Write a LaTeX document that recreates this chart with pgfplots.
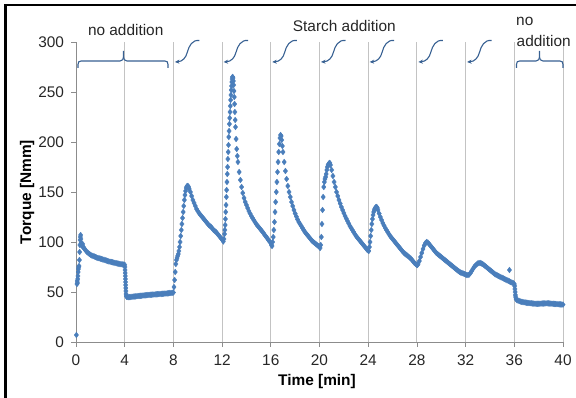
\documentclass[border=0pt]{standalone}
\usepackage{fontspec}
\setmainfont{Liberation Sans}
\usepackage{pgfplots}
\usepackage{pgfplotstable}
\pgfplotsset{compat=1.18}
\usetikzlibrary{arrows.meta}
\definecolor{pts}{RGB}{74,126,187}
\definecolor{ann}{RGB}{55,96,146}
\definecolor{gridc}{RGB}{195,195,195}
\definecolor{axc}{RGB}{140,140,140}
\newcommand{\fs}{\fontsize{15.4bp}{18bp}\selectfont}

\pgfplotstableread{
t v
0.03 7
0.08 58
0.10 61
0.12 59
0.14 63
0.16 66
0.18 70
0.20 73
0.22 75
0.25 76
0.28 82
0.30 90
0.32 97
0.34 102
0.36 105
0.38 107
0.40 103
0.42 99
0.45 97
0.50 96
0.55 98
0.60 95
0.65 94
0.70 93
0.80 91.5
0.90 90
1.00 89
1.1 88
1.2 87.2
1.3 86.5
1.4 86
1.5 85.5
1.6 85
1.7 84.5
1.8 84
1.9 83.7
2.0 83.3
2.1 83
2.2 82.6
2.3 82.2
2.4 81.8
2.5 81.4
2.6 81
2.7 80.6
2.8 80.3
2.9 80
3.0 79.7
3.1 79.4
3.2 79.1
3.3 78.8
3.4 78.5
3.5 78.3
3.6 78
3.7 77.8
3.8 77.6
3.9 77.4
4.0 77.2
4.02 75
4.03 72
4.04 69
4.05 66
4.06 63
4.07 60
4.08 57
4.09 54
4.10 51
4.11 48
4.13 46
4.16 45.3
4.2 45
4.3 44.8
4.4 44.9
4.5 45
4.6 45.2
4.7 45.4
4.8 45.5
4.9 45.6
5.0 45.8
5.1 46
5.2 46.1
5.3 46.2
5.4 46.3
5.5 46.5
5.6 46.6
5.7 46.7
5.8 46.8
5.9 47
6.0 47.1
6.1 47.2
6.2 47.3
6.3 47.4
6.4 47.5
6.5 47.6
6.6 47.7
6.7 47.8
6.8 47.9
6.9 48
7.0 48.1
7.1 48.2
7.2 48.3
7.3 48.4
7.4 48.5
7.5 48.6
7.6 48.7
7.7 48.9
7.8 49
7.9 49.2
8.0 49.5
8.05 55
8.1 62
8.15 70
8.2 78
8.25 82
8.3 84
8.35 86
8.4 88
8.45 91
8.5 95
8.55 100
8.6 106
8.65 112
8.7 118
8.75 124
8.8 130
8.85 136
8.9 142
8.95 147
9.0 151
9.05 154
9.1 155.5
9.15 156
9.2 156
9.25 155
9.3 153
9.4 150
9.5 146
9.6 142
9.7 139
9.8 136
9.9 133
10.0 131
10.1 129
10.2 127.5
10.3 126
10.4 124.5
10.5 123
10.6 121.5
10.7 120
10.8 118.5
10.9 117
11.0 116
11.1 115
11.2 113.5
11.3 112
11.4 111
11.5 110
11.6 108.5
11.7 107
11.8 105.5
11.9 104
12.0 102.5
12.1 100.5
12.15 103
12.2 108
12.225 112
12.25 117
12.275 123
12.3 130
12.325 137
12.35 145
12.375 152
12.4 160
12.425 168
12.45 175
12.475 183
12.5 190
12.525 197
12.55 205
12.575 211
12.6 218
12.625 224
12.65 230
12.675 236
12.7 242
12.725 247
12.75 252
12.775 256
12.8 260
12.825 263
12.85 265
12.875 265
12.9 264
12.925 261
12.95 257
12.975 251
13.0 245
13.025 238
13.05 230
13.075 222
13.1 215
13.15 203
13.2 193
13.25 186
13.3 180
13.4 170
13.5 162
13.6 155
13.7 149
13.8 144
13.9 140
14.0 137
14.1 134
14.2 131
14.3 128.5
14.4 126
14.5 124
14.6 122
14.7 120
14.8 118
14.9 116.5
15.0 115
15.1 113.5
15.2 112
15.3 110.5
15.4 109
15.5 107
15.6 105.5
15.7 104
15.8 102
15.9 100.5
16.0 99
16.05 97
16.1 96
16.15 100
16.2 105
16.25 112
16.3 120
16.35 130
16.4 140
16.45 150
16.5 160
16.55 170
16.6 180
16.65 190
16.7 198
16.75 204
16.8 207
16.85 206
16.9 202
16.95 196
17.0 190
17.1 180
17.2 171
17.3 163
17.4 156
17.5 150
17.6 145
17.7 140
17.8 136
17.9 132
18.0 128.5
18.1 125.5
18.2 122.5
18.3 120
18.4 118
18.5 116
18.6 114
18.7 112
18.8 110
18.9 108.5
19.0 107
19.1 105.5
19.2 104
19.3 102.5
19.4 101
19.5 100
19.6 99
19.7 98
19.8 97
19.9 96
20.0 95
20.05 94
20.1 97
20.15 105
20.2 118
20.25 132
20.3 145
20.35 155
20.4 160
20.45 163
20.5 165
20.55 168
20.6 172
20.65 175
20.7 177
20.75 178
20.8 179
20.85 179
20.9 177
21.0 172
21.1 166
21.2 160
21.3 155
21.4 150
21.5 146
21.6 142
21.7 138.5
21.8 135
21.9 132
22.0 129
22.1 126
22.2 123.5
22.3 121
22.4 118.5
22.5 116
22.6 114
22.7 112
22.8 110
22.9 108
23.0 106
23.1 104.5
23.2 103
23.3 101.5
23.4 100
23.5 98.5
23.6 97
23.7 95.5
23.8 94
23.9 92.5
24.0 91.5
24.05 91
24.1 95
24.15 100
24.2 106
24.25 112
24.3 118
24.35 123
24.4 127
24.45 130
24.5 132
24.55 133.5
24.6 134.5
24.65 135
24.7 135
24.75 134
24.8 132
24.9 128.5
25.0 125
25.1 122
25.2 119
25.3 116.5
25.4 114
25.5 112
25.6 110
25.7 108
25.8 106
25.9 104.5
26.0 103
26.1 101.5
26.2 100
26.3 98.5
26.4 97
26.5 95.5
26.6 94
26.7 92.5
26.8 91
26.9 89.5
27.0 88.5
27.1 87.5
27.2 86.5
27.3 85.5
27.4 84.5
27.5 83.5
27.6 82
27.7 80.5
27.8 79
27.9 78
28.0 77
28.05 77
28.1 78
28.2 81
28.3 85
28.4 89
28.5 93
28.6 96.5
28.7 99
28.8 100
28.9 99.5
29.0 98
29.1 96.5
29.2 95
29.3 93.5
29.4 92
29.5 90.5
29.6 89
29.7 88
29.8 87
29.9 86
30.0 85
30.1 84
30.2 83
30.3 82
30.4 81
30.5 80
30.6 79
30.7 78
30.8 77
30.9 76
31.0 75
31.1 74
31.2 73
31.3 72
31.4 71
31.5 70.2
31.6 69.5
31.7 69
31.8 68.5
31.9 68
32.0 67.5
32.1 67
32.2 67
32.3 67.5
32.4 69
32.5 71
32.6 73
32.7 75
32.8 76.5
32.9 77.5
33.0 78.5
33.1 79
33.2 79
33.3 78.5
33.4 78
33.5 77
33.6 76
33.7 75
33.8 74
33.9 73
34.0 72
34.1 71
34.2 70
34.3 69
34.4 68
34.5 67.3
34.6 66.6
34.7 66
34.8 65.4
34.9 64.8
35.0 64.2
35.1 63.6
35.2 63
35.3 62.4
35.4 61.8
35.5 61.2
35.6 60.6
35.7 60
35.8 59.5
35.9 59
36.0 58
36.03 56
36.05 53
36.07 50
36.09 47
36.11 45
36.14 43
36.2 42
36.3 41.5
36.4 41
36.5 40.5
36.6 40.2
36.7 40
36.8 39.7
36.9 39.5
37.0 39.3
37.1 39.1
37.2 39
37.3 38.8
37.4 38.7
37.5 38.5
37.6 38.4
37.7 38.3
37.8 38.2
37.9 38.2
38.0 38.3
38.1 38.3
38.2 38.4
38.3 38.5
38.4 38.5
38.5 38.6
38.6 38.6
38.7 38.7
38.8 38.6
38.9 38.5
39.0 38.4
39.1 38.3
39.2 38.2
39.3 38.1
39.4 38
39.5 37.9
39.6 37.8
39.7 37.7
39.8 37.6
39.9 37.5
40.0 37.4
}\torque

\pgfplotstableread{
t v
35.6 72
}\outlier

\begin{document}
\begin{tikzpicture}
\useasboundingbox (0,0) rectangle (576bp,398bp);
\begin{axis}[
  at={(76bp,56bp)}, anchor=south west,
  scale only axis, width=487bp, height=300bp,
  xmin=0, xmax=40, ymin=0, ymax=300,
  axis x line*=bottom, axis y line*=left,
  axis line style={draw=axc, line width=0.8bp, -},
  xtick={0,4,...,40}, ytick={0,50,...,300},
  xmajorgrids,
  major x grid style={draw=gridc, line width=0.9bp},
  tick align=outside, major tick length=4.5bp,
  tick style={draw=axc, line width=0.8bp},
  ticklabel style={font=\fs, text=black!85},
  xticklabel style={yshift=-5bp},
  yticklabel style={xshift=-4bp},
  /pgf/number format/assume math mode=true,
  clip=false,
]
\addplot[only marks, mark=diamond*, mark size=2.9bp, color=pts, mark options={line width=0.3bp}] table[x=t, y=v] {\torque};
\addplot[only marks, mark=diamond*, mark size=2.9bp, color=pts, mark options={line width=0.3bp}] table[x=t, y=v] {\outlier};
\end{axis}

\begin{scope}[x=1bp, y=-1bp, shift={(0,398bp)}]
  % frame
  \draw[black, line width=2.5bp] (5.5,398) -- (5.5,5) -- (576,5);
  % labels
  \node[font=\fs\bfseries, anchor=base] at (317,386) {Time [min]};
  \node[font=\fs\bfseries, rotate=90, anchor=base] at (31,192) {Torque [Nmm]};
  % annotation texts
  \node[font=\fs, anchor=base, text=black!85] at (125.7,36) {no addition};
  \node[font=\fs, anchor=base, text=black!85] at (344.3,31.7) {Starch addition};
  \node[font=\fs, anchor=base west, text=black!85, inner sep=0pt] at (516,26) {no};
  \node[font=\fs, anchor=base west, text=black!85, inner sep=0pt] at (516.5,46.7) {addition};
  % braces
  \draw[ann, line width=1.1bp]
    (78,68) -- (78,64.5) .. controls (78,62) and (79,61) .. (81,61) -- (120,61)
    .. controls (122.5,61) and (123.5,59) .. (123.5,57) -- (123.5,51);
  \draw[ann, line width=1.1bp]
    (123.5,57) .. controls (123.5,59) and (124.5,61) .. (127,61) -- (165,61)
    .. controls (167,61) and (168,62) .. (168,64.5) -- (168,68);
  \draw[ann, line width=1.1bp]
    (516.5,68) -- (516.5,64.5) .. controls (516.5,62) and (517.5,61) .. (519.5,61) -- (536,61)
    .. controls (538.5,61) and (539.5,59) .. (539.5,57) -- (539.5,51);
  \draw[ann, line width=1.1bp]
    (539.5,57) .. controls (539.5,59) and (540.5,61) .. (543,61) -- (560,61)
    .. controls (562,61) and (563,62) .. (563,64.5) -- (563,68);
  % curved arrows
  \foreach \xl in {173.4,222.1,270.8,319.5,368.2,416.9,465.6} {
    \draw[ann, line width=1.1bp, -{Stealth[length=4.5bp, width=4bp]}]
      (\xl+26,40.5) .. controls (\xl+19,39.5) and (\xl+15.5,46) .. (\xl+14,52)
      .. controls (\xl+12.5,58) and (\xl+9,61.5) .. (\xl+1.5,62);
  }
\end{scope}
\end{tikzpicture}
\end{document}
